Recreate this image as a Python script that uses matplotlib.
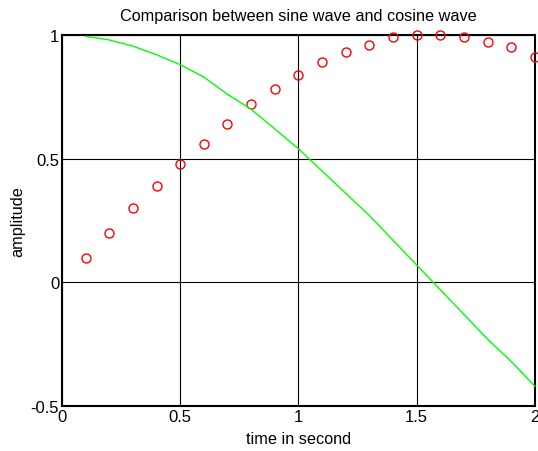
import matplotlib
matplotlib.use("Agg")
import matplotlib.pyplot as plt

t = [0.1, 0.2, 0.3, 0.4, 0.5, 0.6, 0.7, 0.8, 0.9, 1.0,
     1.1, 1.2, 1.3, 1.4, 1.5, 1.6, 1.7, 1.8, 1.9, 2.0]
sine_vals = [0.10, 0.20, 0.30, 0.39, 0.48, 0.56, 0.64, 0.72, 0.78, 0.84,
             0.89, 0.93, 0.96, 0.99, 1.00, 1.00, 0.99, 0.97, 0.95, 0.91]
cosine_vals = [0.995, 0.98, 0.955, 0.92, 0.88, 0.83, 0.76, 0.70, 0.62, 0.54,
               0.45, 0.36, 0.27, 0.17, 0.07, -0.03, -0.13, -0.23, -0.32, -0.42]
xticks = [0, 0.5, 1, 1.5, 2]
xticklabels = ["0", "0.5", "1", "1.5", "2"]
yticks = [-0.5, 0, 0.5, 1]
yticklabels = ["-0.5", "0", "0.5", "1"]

plt.rcParams['font.family'] = ['Liberation Sans', 'DejaVu Sans']
fig = plt.figure(figsize=(5.38, 4.52), dpi=100)
ax = fig.add_axes([0.1152, 0.0996, 0.879, 0.8208])

ax.plot(t, sine_vals, linestyle='none', marker='o', markersize=6.5,
        markerfacecolor='none', markeredgecolor='#ff0000', markeredgewidth=1.0,
        clip_on=False, zorder=3)
ax.plot(t, cosine_vals, color='#00ff00', linewidth=1.0, clip_on=False, zorder=3)

ax.set_xlim(0, 2)
ax.set_ylim(-0.5, 1)
ax.set_xticks(xticks)
ax.set_xticklabels(xticklabels)
ax.set_yticks(yticks)
ax.set_yticklabels(yticklabels)
ax.grid(True, color='black', linewidth=0.8, linestyle='-')
ax.tick_params(length=0, labelsize=12, pad=2)
for s in ax.spines.values():
    s.set_linewidth(1.5)
    s.set_color('black')

ax.set_title('Comparison between sine wave and cosine wave', fontsize=11.7, pad=11)
ax.set_xlabel('time in second', fontsize=11.7, labelpad=5)
ax.set_ylabel('amplitude', fontsize=11.7, labelpad=4)

fig.savefig('out.png', dpi=100)
